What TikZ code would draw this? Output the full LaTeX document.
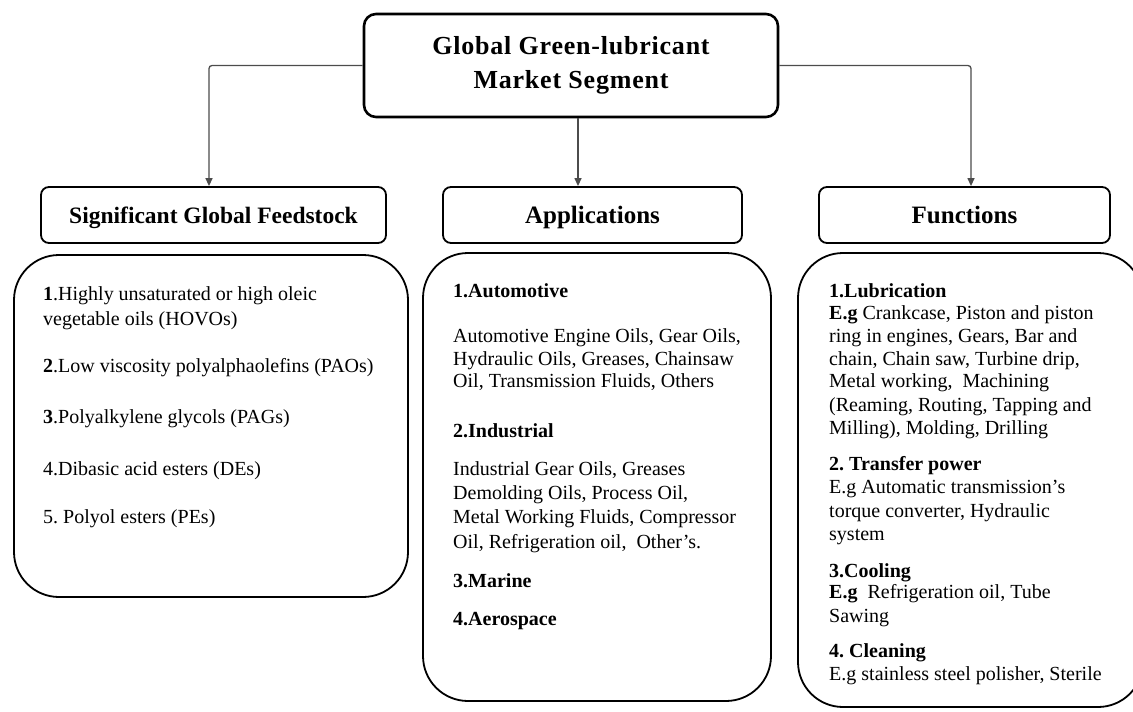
\documentclass[tikz,border=0pt]{standalone}
\usepackage{fontspec}
\setmainfont{Liberation Serif}
\newfontfamily\titlefont[LetterSpace=3]{Liberation Serif}
\usetikzlibrary{arrows.meta}
\frenchspacing
\begin{document}
\begin{tikzpicture}[x=1pt,y=-1pt,
  topbox/.style={draw, line width=2.6pt, rounded corners=12pt, minimum width=414pt, minimum height=103pt, align=center, inner sep=0pt,
    font=\titlefont\bfseries\fontsize{26}{34}\selectfont},
  hdr/.style={draw, line width=1.8pt, rounded corners=8pt, minimum height=56pt, inner sep=0pt, text height=20pt, text depth=4pt},
  card/.style={draw, line width=1.8pt, rounded corners=45pt, inner sep=0pt},
  conn/.style={draw=black!70, line width=1.3pt, rounded corners=3pt, -{Triangle[length=8pt,width=7pt]}},
  txt/.style={anchor=base west, inner sep=0pt, font=\fontsize{20}{23}\selectfont},
]
\useasboundingbox (0,0) rectangle (1133,712);

% title
\node[topbox] (top) at (571,65.5) {Global Green-lubricant\\Market Segment};

% headers
\node[hdr, minimum width=345pt, font=\bfseries\fontsize{23.5}{28}\selectfont] (feed) at (213.5,215) {Significant Global Feedstock};
\node[hdr, minimum width=299pt, font=\bfseries\fontsize{25}{30}\selectfont] (apps) at (592.5,215) {Applications};
\node[hdr, minimum width=291pt, font=\bfseries\fontsize{25}{30}\selectfont] (func) at (964.5,215) {Functions};

% connectors
\draw[conn] (top.west) -| ([xshift=-4.5pt]feed.north);
\draw[conn] (top.east) -| ([xshift=6.5pt]func.north);
\coordinate (midtop) at ([xshift=7pt]top.south);
\draw[conn] (midtop) -- (midtop |- apps.north);

% content cards
\node[card, minimum width=394pt, minimum height=342pt] (cardL) at (211,426) {};
\node[card, minimum width=348pt, minimum height=448pt] (cardM) at (597,477) {};
\node[card, minimum width=345pt, minimum height=454pt] (cardR) at (970.5,480) {};

% left text
\node[txt] (l1) at (43,300) {\textbf{1}.Highly unsaturated or high oleic};
\node[txt] (l2) at (43,325) {vegetable oils (HOVOs)};
\node[txt] (l3) at (43,372) {\textbf{2}.Low viscosity polyalphaolefins (PAOs)};
\node[txt] (l4) at (43,423) {\textbf{3}.Polyalkylene glycols (PAGs)};
\node[txt] (l5) at (43,475) {4.Dibasic acid esters (DEs)};
\node[txt] (l6) at (43,523) {5. Polyol esters (PEs)};

% middle text
\node[txt] (m1) at (453,297) {\textbf{1.Automotive}};
\node[txt] (m2) at (453,342) {Automotive Engine Oils, Gear Oils,};
\node[txt] (m3) at (453,365) {Hydraulic Oils, Greases, Chainsaw};
\node[txt] (m4) at (453,387) {Oil, Transmission Fluids, Others};
\node[txt] (m5) at (453,437) {\textbf{2.Industrial}};
\node[txt] (m6) at (453,475) {Industrial Gear Oils, Greases};
\node[txt] (m7) at (453,499) {Demolding Oils, Process Oil,};
\node[txt] (m8) at (453,523) {Metal Working Fluids, Compressor};
\node[txt] (m9) at (453,548) {Oil, Refrigeration oil,\ \ Other’s.};
\node[txt] (m10) at (453,587) {\textbf{3.Marine}};
\node[txt] (m11) at (453,625) {\textbf{4.Aerospace}};

% right text
\node[txt] (r1) at (829,297) {\textbf{1.Lubrication}};
\node[txt] (r2) at (829,319) {\textbf{E.g} Crankcase, Piston and piston};
\node[txt] (r3) at (829,342) {ring in engines, Gears, Bar and};
\node[txt] (r4) at (829,365) {chain, Chain saw, Turbine drip,};
\node[txt] (r5) at (829,387) {Metal working,\ \ Machining};
\node[txt] (r6) at (829,411) {(Reaming, Routing, Tapping and};
\node[txt] (r7) at (829,434) {Milling), Molding, Drilling};
\node[txt] (r8) at (829,470) {\textbf{2. Transfer power}};
\node[txt] (r9) at (829,493) {E.g Automatic transmission's};
\node[txt] (r10) at (829,517) {torque converter, Hydraulic};
\node[txt] (r11) at (829,540) {system};
\node[txt] (r12) at (829,577) {\textbf{3.Cooling}};
\node[txt] (r13) at (829,598) {\textbf{E.g}\ \ Refrigeration oil, Tube};
\node[txt] (r14) at (829,622) {Sawing};
\node[txt] (r15) at (829,657) {\textbf{4. Cleaning}};
\node[txt] (r16) at (829,680) {E.g stainless steel polisher, Sterile};
\end{tikzpicture}
\end{document}
